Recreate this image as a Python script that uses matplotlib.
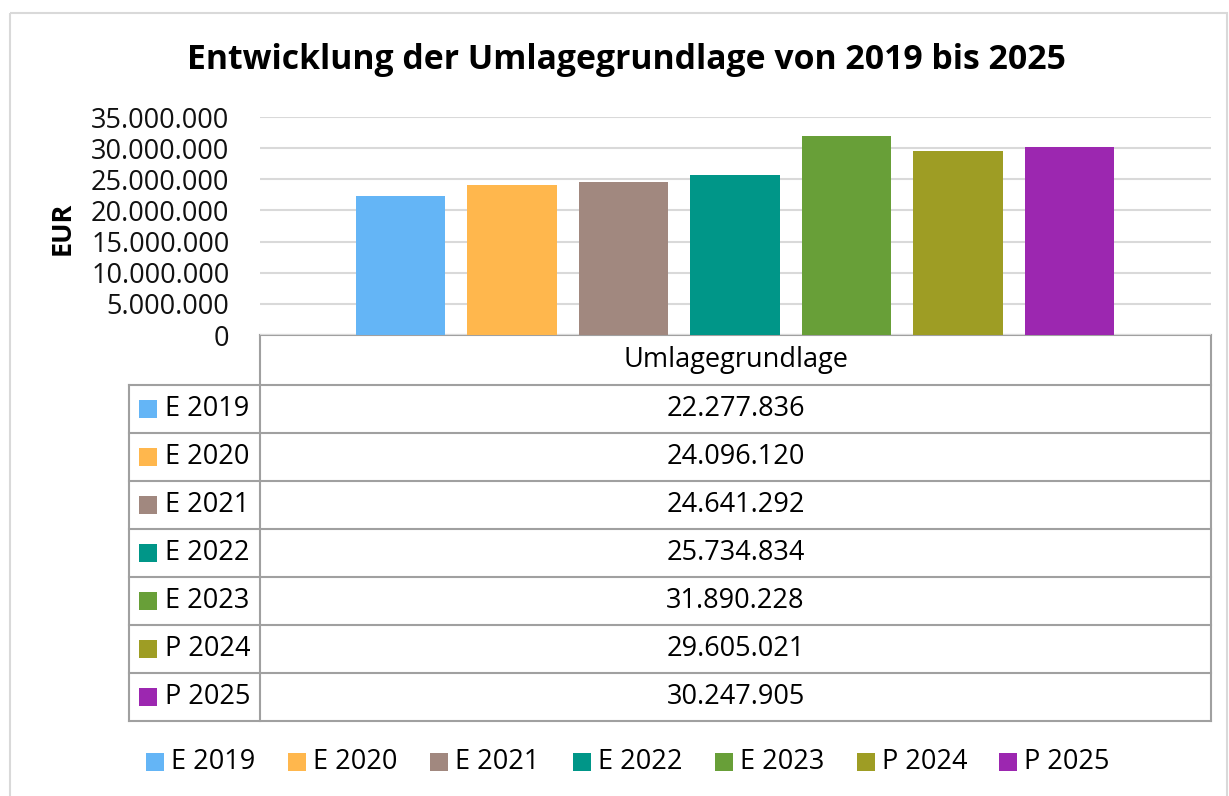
import matplotlib
matplotlib.use("Agg")
import matplotlib.pyplot as plt
from matplotlib.patches import Rectangle
from matplotlib.ticker import FuncFormatter
import numpy as np

title = "Entwicklung der Umlagegrundlage von 2019 bis 2025"
ylabel = "EUR"
category = "Umlagegrundlage"
series = ["E 2019", "E 2020", "E 2021", "E 2022", "E 2023", "P 2024", "P 2025"]
values = [22277836, 24096120, 24641292, 25734834, 31890228, 29605021, 30247905]
colors = ["#64B5F6", "#FFB74D", "#A1887F", "#009688", "#689F38", "#9E9D24", "#9C27B0"]
yticks = [0, 5000000, 10000000, 15000000, 20000000, 25000000, 30000000, 35000000]

FONT = "Open Sans"
plt.rcParams["font.family"] = [FONT, "DejaVu Sans"]

W, H = 1229, 796
fig = plt.figure(figsize=(W / 100, H / 100), dpi=100)

def fx(px):
    return px / W

def fy(py):
    return 1 - py / H

def de(v):
    return f"{int(round(v)):,}".replace(",", ".")

FS = 19.5

# overlay axes in pixel coordinates
ov = fig.add_axes([0, 0, 1, 1])
ov.set_xlim(0, W)
ov.set_ylim(H, 0)
ov.axis("off")
ov.add_patch(Rectangle((10, 13), W - 12, H - 10, fill=False, edgecolor="#D9D9D9", lw=1.5))

# plot area
L, R, T, B = 260, 1211, 117, 335
ax = fig.add_axes([fx(L), fy(B), fx(R) - fx(L), (B - T) / H])
x = np.arange(len(series))
ax.bar(x, values, width=0.8, color=colors, zorder=3)
ax.set_xlim(-1.26, len(series) - 1 + 1.27)
ax.set_ylim(0, 35000000)
ax.set_yticks(yticks)
ax.yaxis.set_major_formatter(FuncFormatter(lambda v, p: de(v)))
ax.tick_params(axis="y", length=0, labelsize=FS, pad=22, labelcolor="#111111")
ax.set_xticks([])
ax.grid(axis="y", color="#D9D9D9", lw=1.5, zorder=0)
for s in ax.spines.values():
    s.set_visible(False)
ax.set_facecolor("none")

fig.text(fx(63), fy(228), ylabel, rotation=90, ha="center", va="center",
         fontsize=FS, fontweight="bold")
fig.text(fx(626), fy(60), title, ha="center", va="center",
         fontsize=24.3, fontweight="bold")

# data table
lc = "#A0A0A0"
lw = 1.5
row_top = 385
row_h = 48
n = len(series)
bottom = row_top + n * row_h
LC = 129
ov.plot([L, R], [B, B], color=lc, lw=lw)
ov.plot([L, L], [B, bottom], color=lc, lw=lw)
ov.plot([R, R], [B, bottom], color=lc, lw=lw)
ov.plot([LC, LC], [row_top, bottom], color=lc, lw=lw)
for i in range(n + 1):
    yy = row_top + i * row_h
    ov.plot([LC, R], [yy, yy], color=lc, lw=lw)
ov.text((L + R) / 2, (B + row_top) / 2, category, ha="center", va="center", fontsize=FS)
for i, (s, v, c) in enumerate(zip(series, values, colors)):
    yc = row_top + (i + 0.5) * row_h
    ov.add_patch(Rectangle((139, yc - 9), 18, 18, color=c, lw=0))
    ov.text(165, yc, s, ha="left", va="center", fontsize=FS)
    ov.text((L + R) / 2, yc, de(v), ha="center", va="center", fontsize=FS)

# legend
lx0 = 146
step = 142.2
for i, (s, c) in enumerate(zip(series, colors)):
    xx = lx0 + i * step
    ov.add_patch(Rectangle((xx, 753), 18, 18, color=c, lw=0))
    ov.text(xx + 25, 762, s, ha="left", va="center", fontsize=FS)

fig.savefig("out.png", dpi=100)
